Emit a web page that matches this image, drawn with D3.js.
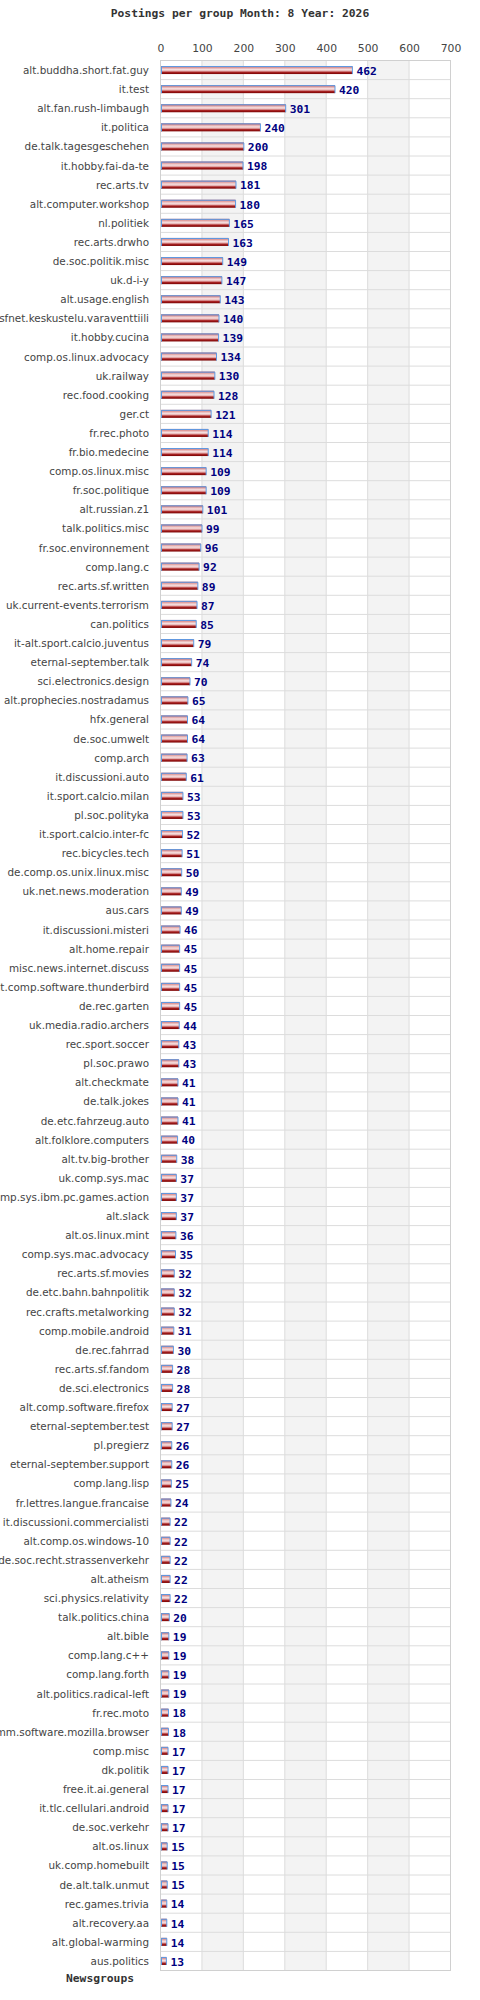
<!DOCTYPE html>
<html>
<head>
<meta charset="utf-8">
<script src="https://cdn.jsdelivr.net/npm/d3@7"></script>
<style>
  body { margin: 0; background: #fff; }
</style>
</head>
<body>
<div id="chart"></div>
<script>
// newsgroups, top to bottom
const groups = [
  'alt.buddha.short.fat.guy', 'it.test', 'alt.fan.rush-limbaugh', 'it.politica',
  'de.talk.tagesgeschehen', 'it.hobby.fai-da-te', 'rec.arts.tv', 'alt.computer.workshop',
  'nl.politiek', 'rec.arts.drwho', 'de.soc.politik.misc', 'uk.d-i-y',
  'alt.usage.english', 'sfnet.keskustelu.varaventtiili', 'it.hobby.cucina', 'comp.os.linux.advocacy',
  'uk.railway', 'rec.food.cooking', 'ger.ct', 'fr.rec.photo',
  'fr.bio.medecine', 'comp.os.linux.misc', 'fr.soc.politique', 'alt.russian.z1',
  'talk.politics.misc', 'fr.soc.environnement', 'comp.lang.c', 'rec.arts.sf.written',
  'uk.current-events.terrorism', 'can.politics', 'it-alt.sport.calcio.juventus', 'eternal-september.talk',
  'sci.electronics.design', 'alt.prophecies.nostradamus', 'hfx.general', 'de.soc.umwelt',
  'comp.arch', 'it.discussioni.auto', 'it.sport.calcio.milan', 'pl.soc.polityka',
  'it.sport.calcio.inter-fc', 'rec.bicycles.tech', 'de.comp.os.unix.linux.misc', 'uk.net.news.moderation',
  'aus.cars', 'it.discussioni.misteri', 'alt.home.repair', 'misc.news.internet.discuss',
  'alt.comp.software.thunderbird', 'de.rec.garten', 'uk.media.radio.archers', 'rec.sport.soccer',
  'pl.soc.prawo', 'alt.checkmate', 'de.talk.jokes', 'de.etc.fahrzeug.auto',
  'alt.folklore.computers', 'alt.tv.big-brother', 'uk.comp.sys.mac', 'comp.sys.ibm.pc.games.action',
  'alt.slack', 'alt.os.linux.mint', 'comp.sys.mac.advocacy', 'rec.arts.sf.movies',
  'de.etc.bahn.bahnpolitik', 'rec.crafts.metalworking', 'comp.mobile.android', 'de.rec.fahrrad',
  'rec.arts.sf.fandom', 'de.sci.electronics', 'alt.comp.software.firefox', 'eternal-september.test',
  'pl.pregierz', 'eternal-september.support', 'comp.lang.lisp', 'fr.lettres.langue.francaise',
  'it.discussioni.commercialisti', 'alt.comp.os.windows-10', 'de.soc.recht.strassenverkehr', 'alt.atheism',
  'sci.physics.relativity', 'talk.politics.china', 'alt.bible', 'comp.lang.c++',
  'comp.lang.forth', 'alt.politics.radical-left', 'fr.rec.moto', 'comm.software.mozilla.browser',
  'comp.misc', 'dk.politik', 'free.it.ai.general', 'it.tlc.cellulari.android',
  'de.soc.verkehr', 'alt.os.linux', 'uk.comp.homebuilt', 'de.alt.talk.unmut',
  'rec.games.trivia', 'alt.recovery.aa', 'alt.global-warming', 'aus.politics'
]

const postings = [
  462, 420, 301, 240, 200, 198, 181, 180, 165, 163, 149, 147,
  143, 140, 139, 134, 130, 128, 121, 114, 114, 109, 109, 101,
  99, 96, 92, 89, 87, 85, 79, 74, 70, 65, 64, 64,
  63, 61, 53, 53, 52, 51, 50, 49, 49, 46, 45, 45,
  45, 45, 44, 43, 43, 41, 41, 41, 40, 38, 37, 37,
  37, 36, 35, 32, 32, 32, 31, 30, 28, 28, 27, 27,
  26, 26, 25, 24, 22, 22, 22, 22, 22, 20, 19, 19,
  19, 19, 18, 18, 17, 17, 17, 17, 17, 15, 15, 15,
  14, 14, 14, 13
]

const xTicks = [0, 100, 200, 300, 400, 500, 600, 700]

const titleText = 'Postings per group Month: 8 Year: 2026'
const yTitle = 'Newsgroups'

const width = 480
const height = 2000
const plotLeft = 160.5, plotRight = 450.5, plotTop = 60.5, plotBottom = 1970.5

const svg = d3.select('#chart')
  .append('svg')
  .attr('width', width)
  .attr('height', height)

const x = d3.scaleLinear()
  .domain([0, 700])
  .range([plotLeft, plotRight])

const y = d3.scaleBand()
  .domain(groups)
  .range([plotTop, plotBottom])

// bar gradient (striped red)
const grad = svg.append('defs')
  .append('linearGradient')
  .attr('id', 'barGrad')
  .attr('x1', 0).attr('y1', 0)
  .attr('x2', 0).attr('y2', 1)
const stops = [
  [0, '#c04848'], [0.22, '#e2a4a4'], [0.44, '#f6dede'],
  [0.6, '#e8b6b6'], [0.78, '#a82222'], [1, '#780000']
]
stops.forEach(s => {
  grad.append('stop').attr('offset', s[0]).attr('stop-color', s[1])
})

// title
svg.append('text')
  .attr('x', 240)
  .attr('y', 17)
  .attr('text-anchor', 'middle')
  .attr('font-family', 'DejaVu Sans Mono, monospace')
  .attr('font-weight', 'bold')
  .attr('font-size', 11.3)
  .attr('fill', '#333')
  .text(titleText)

// shaded bands 100-200, 300-400, 500-600
const bands = xTicks.slice(0, -1).filter((d, i) => i % 2 === 1)
svg.append('g')
  .selectAll('rect')
  .data(bands)
  .join('rect')
  .attr('x', d => x(d))
  .attr('y', plotTop)
  .attr('width', d => x(d + 100) - x(d))
  .attr('height', plotBottom - plotTop)
  .attr('fill', '#f3f3f3')

// grid
const grid = svg.append('g')
  .attr('stroke', '#dcdcdc')
  .attr('stroke-width', 1)
grid.selectAll('line.v')
  .data(xTicks)
  .join('line')
  .attr('class', 'v')
  .attr('x1', d => x(d)).attr('x2', d => x(d))
  .attr('y1', plotTop).attr('y2', plotBottom)
grid.selectAll('line.h')
  .data(groups.slice(1))
  .join('line')
  .attr('class', 'h')
  .attr('x1', plotLeft).attr('x2', plotRight)
  .attr('y1', d => y(d)).attr('y2', d => y(d))
svg.append('rect')
  .attr('x', plotLeft).attr('y', plotTop)
  .attr('width', plotRight - plotLeft).attr('height', plotBottom - plotTop)
  .attr('fill', 'none')
  .attr('stroke', '#d0d0d0')

// top axis
const axis = svg.append('g')
  .attr('transform', `translate(0,${plotTop})`)
  .call(d3.axisTop(x).tickValues(xTicks).tickSize(0).tickPadding(8.5))
axis.select('.domain').remove()
axis.selectAll('text')
  .attr('font-family', 'DejaVu Sans, sans-serif')
  .attr('font-size', 10.8)
  .attr('fill', '#444')

// category labels
svg.append('g')
  .selectAll('text')
  .data(groups)
  .join('text')
  .attr('x', plotLeft - 11.5)
  .attr('y', d => y(d) + y.bandwidth() / 2 + 4)
  .attr('text-anchor', 'end')
  .attr('font-family', 'DejaVu Sans, sans-serif')
  .attr('font-size', 10.4)
  .attr('fill', '#444')
  .text(d => d)

// bars: gradient body, blue edge on left, top and right
const barH = 8
const barTop = i => y(groups[i]) + y.bandwidth() / 2 - barH / 2
const bars = svg.append('g')
bars.selectAll('rect')
  .data(postings)
  .join('rect')
  .attr('x', x(0) + 0.5)
  .attr('y', (d, i) => barTop(i))
  .attr('width', d => x(d) - x(0))
  .attr('height', barH)
  .attr('fill', 'url(#barGrad)')
bars.selectAll('path')
  .data(postings)
  .join('path')
  .attr('d', (d, i) => {
    const x0 = x(0) + 1, x1 = x(d) + 0.5, y0 = barTop(i) + 0.5, y1 = barTop(i) + barH
    return `M${x0},${y1}V${y0}H${x1}V${y1}`
  })
  .attr('fill', 'none')
  .attr('stroke', '#5b9be6')
  .attr('stroke-width', 1)

// value labels
svg.append('g')
  .selectAll('text')
  .data(postings)
  .join('text')
  .attr('x', d => x(d) + 4.5)
  .attr('y', (d, i) => y(groups[i]) + y.bandwidth() / 2 + 4.8)
  .attr('font-family', 'DejaVu Sans Mono, monospace')
  .attr('font-weight', 'bold')
  .attr('font-size', 11.3)
  .attr('fill', '#000080')
  .text(d => d)

// axis title
svg.append('text')
  .attr('x', 100)
  .attr('y', 1982)
  .attr('text-anchor', 'middle')
  .attr('font-family', 'DejaVu Sans Mono, monospace')
  .attr('font-weight', 'bold')
  .attr('font-size', 11.3)
  .attr('fill', '#333')
  .text(yTitle)
</script>
</body>
</html>
